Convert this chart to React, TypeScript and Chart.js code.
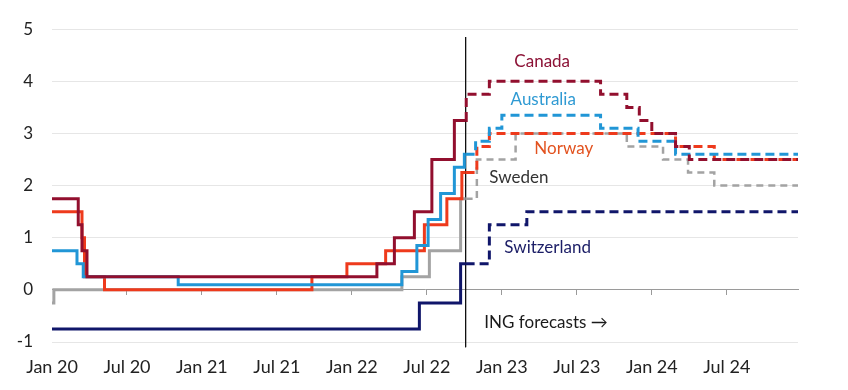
import React, { useEffect, useRef } from 'react';
import { Chart, registerables } from 'chart.js';

Chart.register(...registerables);

// x values are months since Jan 2020
const tickMonths = [0, 6, 12, 18, 24, 30, 36, 42, 48, 54];
const tickLabels = ['Jan 20', 'Jul 20', 'Jan 21', 'Jul 21', 'Jan 22', 'Jul 22', 'Jan 23', 'Jul 23', 'Jan 24', 'Jul 24'];
const yTicks = [-1, 0, 1, 2, 3, 4, 5];
const xEnd = 59.7;
const forecastStart = 33.1;

const canadaActual: [number, number][] = [[0, 1.75], [2.1, 1.25], [2.4, 0.75], [2.8, 0.25], [26.0, 0.5], [27.4, 1.0], [29.0, 1.5], [30.4, 2.5], [32.2, 3.25], [33.1, 3.25]];
const canadaForecast: [number, number][] = [[33.1, 3.25], [33.15, 3.75], [35.0, 4.0], [43.9, 3.75], [46.0, 3.5], [47.0, 3.25], [48.0, 3.0], [49.9, 2.75], [51.0, 2.5], [59.7, 2.5]];

const australiaActual: [number, number][] = [[0, 0.75], [2.0, 0.5], [2.5, 0.25], [10.1, 0.1], [28.0, 0.35], [29.2, 0.85], [30.1, 1.35], [31.1, 1.85], [32.2, 2.35], [33.0, 2.6], [33.1, 2.6]];
const australiaForecast: [number, number][] = [[33.1, 2.6], [33.9, 2.85], [35.0, 3.1], [36.0, 3.35], [43.9, 3.1], [46.9, 2.85], [49.9, 2.6], [59.7, 2.6]];

const norwayActual: [number, number][] = [[0, 1.5], [2.4, 1.0], [2.6, 0.25], [4.2, 0], [20.8, 0.25], [23.6, 0.5], [26.7, 0.75], [29.8, 1.25], [31.6, 1.75], [32.8, 2.25], [33.1, 2.25]];
const norwayForecast: [number, number][] = [[33.1, 2.25], [34.0, 2.75], [35.0, 3.0], [49.9, 2.75], [53.0, 2.5], [59.7, 2.5]];

const swedenActual: [number, number][] = [[0, -0.25], [0.15, 0], [28.0, 0.25], [30.2, 0.75], [32.7, 1.75], [33.1, 1.75]];
const swedenForecast: [number, number][] = [[33.1, 1.75], [34.0, 2.5], [37.1, 3.0], [46.0, 2.75], [48.9, 2.5], [50.9, 2.25], [53.0, 2.0], [59.7, 2.0]];

const switzerlandActual: [number, number][] = [[0, -0.75], [29.4, -0.25], [32.7, 0.5], [33.1, 0.5]];
const switzerlandForecast: [number, number][] = [[33.1, 0.5], [35.0, 1.25], [38.0, 1.5], [59.7, 1.5]];

const forecastLine: [number, number][] = [[forecastStart, 4.85], [forecastStart, -1.1]];

const COLORS = {
  canada: '#920f2e',
  australia: '#2196d6',
  norway: '#ee3a1c',
  sweden: '#a3a3a3',
  switzerland: '#10166a',
};

const textLabels = [
  { text: 'Canada', x: 37.0, y: 4.38, color: '#8c1236' },
  { text: 'Australia', x: 36.7, y: 3.65, color: '#2f9ad3' },
  { text: 'Norway', x: 38.6, y: 2.71, color: '#e2521f' },
  { text: 'Sweden', x: 35.0, y: 2.16, color: '#333333' },
  { text: 'Switzerland', x: 36.2, y: 0.82, color: '#1b1d66' },
  { text: 'ING forecasts \u2192', x: 34.6, y: -0.63, color: '#1a1a1a' },
];

const FONT = 'Lato, "Open Sans", sans-serif';

const toPts = (arr: [number, number][]) => arr.map(([x, y]) => ({ x, y }));

const labelPlugin = {
  id: 'textLabels',
  afterDatasetsDraw(chart: any) {
    const { ctx, scales } = chart;
    ctx.save();
    ctx.font = `17px ${FONT}`;
    ctx.textAlign = 'left';
    ctx.textBaseline = 'middle';
    for (const l of textLabels) {
      ctx.fillStyle = l.color;
      ctx.fillText(l.text, scales.x.getPixelForValue(l.x), scales.y.getPixelForValue(l.y));
    }
    ctx.restore();
  },
};

export default function App() {
  const ref = useRef<HTMLCanvasElement>(null);
  useEffect(() => {
    if (!ref.current) return;
    const solid = (data: [number, number][], color: string, order: number) => ({
      data: toPts(data),
      borderColor: color,
      borderWidth: 3,
      stepped: 'before' as const,
      pointRadius: 0,
      fill: false,
      order,
    });
    const dashed = (data: [number, number][], color: string, order: number, width = 3, dash = [9, 5]) => ({
      data: toPts(data),
      borderColor: color,
      borderWidth: width,
      borderDash: dash,
      stepped: 'before' as const,
      pointRadius: 0,
      fill: false,
      order,
    });
    const chart = new Chart(ref.current, {
      type: 'line',
      data: {
        datasets: [
          solid(canadaActual, COLORS.canada, 0),
          dashed(canadaForecast, COLORS.canada, 0),
          solid(australiaActual, COLORS.australia, 1),
          dashed(australiaForecast, COLORS.australia, 1),
          solid(norwayActual, COLORS.norway, 2),
          dashed(norwayForecast, COLORS.norway, 2),
          solid(swedenActual, COLORS.sweden, 3),
          dashed(swedenForecast, COLORS.sweden, 3, 2.5, [7, 5]),
          solid(switzerlandActual, COLORS.switzerland, 4),
          dashed(switzerlandForecast, COLORS.switzerland, 4),
          {
            data: toPts(forecastLine),
            borderColor: '#111111',
            borderWidth: 1,
            pointRadius: 0,
            fill: false,
            clip: false as any,
            order: 5,
          },
        ] as any,
      },
      options: {
        animation: false,
        responsive: true,
        maintainAspectRatio: false,
        layout: { padding: { top: 28, right: 50, left: 0, bottom: 0 } },
        plugins: { legend: { display: false }, tooltip: { enabled: false } },
        scales: {
          x: {
            type: 'linear',
            min: 0,
            max: xEnd,
            position: 'bottom',
            afterBuildTicks: (s: any) => {
              s.ticks = tickMonths.map((v) => ({ value: v }));
            },
            afterFit: (s: any) => {
              s.height = 48;
            },
            grid: { display: false, drawTicks: false },
            border: { display: false },
            ticks: {
              padding: 14,
              maxRotation: 0,
              autoSkip: false,
              color: '#222222',
              font: { family: FONT, size: 18 },
              callback: (v: any) => {
                const i = tickMonths.indexOf(Number(v));
                return i >= 0 ? tickLabels[i] : '';
              },
            },
          },
          x0: {
            type: 'linear',
            min: 0,
            max: xEnd,
            position: { y: 0 } as any,
            afterBuildTicks: (s: any) => {
              s.ticks = tickMonths.slice(1).map((v) => ({ value: v }));
            },
            grid: { display: true, drawOnChartArea: false, drawTicks: true, tickLength: 5, color: '#9a9a9a' },
            border: { display: true, color: '#9a9a9a', width: 1 },
            ticks: { display: false },
          },
          y: {
            type: 'linear',
            min: -1,
            max: 5,
            afterBuildTicks: (s: any) => {
              s.ticks = yTicks.map((v) => ({ value: v }));
            },
            afterFit: (s: any) => {
              s.width = 52;
            },
            grid: {
              drawTicks: false,
              color: (c: any) => (c.tick && c.tick.value === 0 ? 'rgba(0,0,0,0)' : '#e6e6e6'),
            },
            border: { display: false },
            ticks: {
              padding: 19,
              color: '#222222',
              font: { family: FONT, size: 17 },
            },
          },
        },
      } as any,
      plugins: [labelPlugin],
    });
    return () => chart.destroy();
  }, []);
  return (
    <div style={{ position: 'absolute', left: 0, top: 0, width: 848, height: 390, background: '#ffffff' }}>
      <canvas ref={ref} />
    </div>
  );
}
